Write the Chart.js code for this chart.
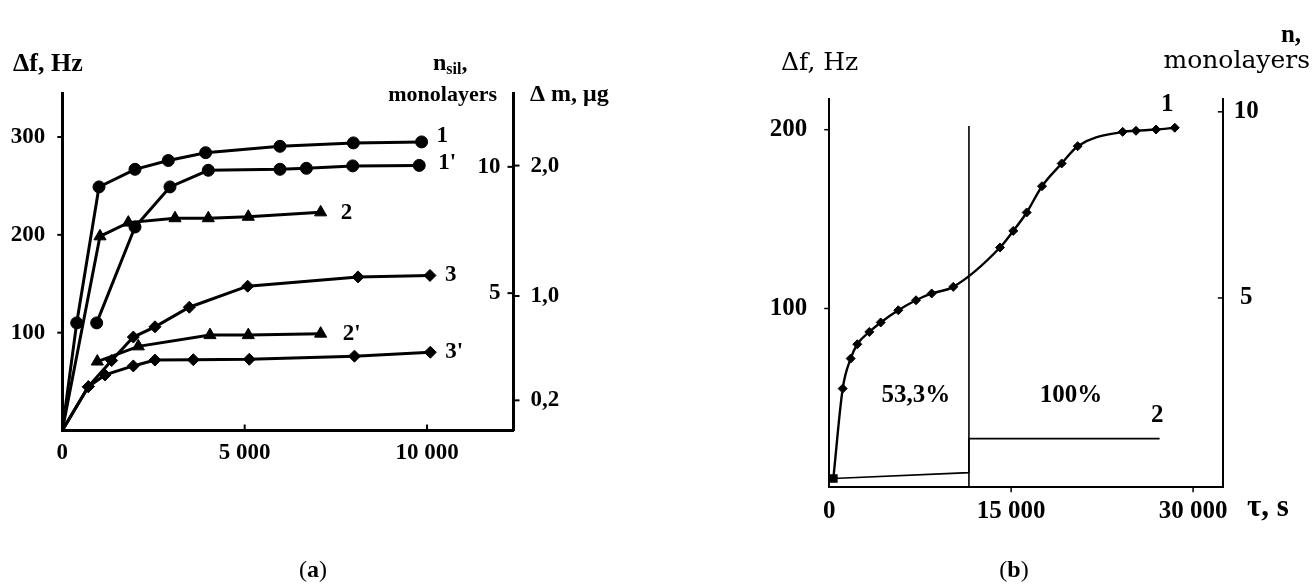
<!DOCTYPE html>
<html>
<head>
<meta charset="utf-8">
<script src="https://cdn.jsdelivr.net/npm/chart.js@4.4.0/dist/chart.umd.min.js"></script>
<style>
html, body { margin: 0; padding: 0; background: #fff; }
#wrap { position: relative; width: 1312px; height: 585px; }
#wrap canvas { position: absolute; left: 0; top: 0; }
</style>
</head>
<body>
<div id="wrap">
  <canvas id="chartA" width="1312" height="585"></canvas>
  <canvas id="chartB" width="1312" height="585"></canvas>
</div>
<script>
// ---- panel (a): Δf vs time, six curves ----
const timeA1  = [0, 395, 1006, 1993, 2906, 3930, 5968, 7980, 9850];
const dfA1    = [0, 110, 249, 267, 276, 284, 290.5, 294, 295];
const timeA1p = [942, 1993, 2952, 4003, 5968, 6692, 7961, 9786];
const dfA1p   = [110, 208, 249, 266, 267, 268, 270.5, 271];
const timeA2  = [0, 1033, 1810, 3090, 4003, 5099, 7083];
const dfA2    = [0, 198.5, 212.5, 217, 217, 218.5, 223];
const timeA2p = [960, 2084, 4049, 5099, 7083];
const dfA2p   = [70.5, 86, 97.5, 97.5, 99];
const timeA3  = [0, 713, 1353, 1947, 2541, 3482, 5082, 8107, 10080];
const dfA3    = [0, 44.8, 71.5, 95.5, 106, 126, 147.5, 157, 158.5];
const timeA3p = [0, 713, 1171, 1947, 2541, 3592, 5126, 8010, 10090];
const dfA3p   = [0, 44.8, 56.8, 66, 72, 72.4, 72.8, 76, 80];

const xTicksA = [0, 5000, 10000];
const yTicksA = [100, 200, 300];
const nsilTicksA = [5, 10];
const dmTicksA = [0.2, 1.0, 2.0];

// ---- panel (b) ----
const timeB1 = [340, 1113, 1772, 2317, 3306, 4246, 5697, 7156, 8450, 10231, 14081, 15177, 16282, 17543, 19167, 20486, 24196, 25293, 26950, 28491];
const dfB1   = [4.9, 55.2, 72, 80, 86.9, 92.2, 99, 104.6, 108.4, 112.1, 134.1, 143.4, 153.7, 168.4, 181.1, 190.8, 198.8, 199.4, 200.1, 201.1];
const timeB2 = [340, 11520, 11520, 27240];
const dfB2   = [4.9, 8.2, 27.2, 27.2];
const timeSep = [11520, 11520];
const dfSep   = [0, 202];

const xTicksB = [0, 15000, 30000];
const yTicksB = [100, 200];
const nTicksB = [5, 10];

const SERIF = '"Liberation Serif", "Times New Roman", serif';
const DEJA = '"DejaVu Serif", serif';
const bold = s => 'bold ' + s + 'px ' + SERIF;
const reg = s => s + 'px ' + SERIF;

const pts = (xs, ys) => xs.map((x, i) => ({ x: x, y: ys[i] }));
const spaced = v => String(v).replace(/\B(?=(\d{3})+$)/g, ' ');

function axis(o) {
  return {
    type: 'linear',
    position: o.position,
    min: o.min,
    max: o.max,
    display: o.display === undefined ? true : o.display,
    weight: o.weight || 0,
    border: { display: true, color: '#000', width: o.bw },
    grid: { display: true, drawOnChartArea: false, drawTicks: false },
    ticks: {
      color: '#000',
      font: { family: SERIF, size: o.fs, weight: 'bold' },
      padding: o.pad,
      crossAlign: o.crossAlign || 'near',
      callback: o.fmt || (v => String(v))
    },
    afterBuildTicks: s => { s.ticks = o.ticks.map(v => ({ value: v })); },
    afterFit: s => {
      if (o.size === undefined) return;
      if (s.isHorizontal()) s.height = o.size; else s.width = o.size;
    }
  };
}

// small tick marks drawn from the scales
const tickMarks = {
  id: 'tickMarks',
  afterDraw(chart, args, opts) {
    const ctx = chart.ctx, ca = chart.chartArea;
    ctx.save();
    ctx.strokeStyle = '#000';
    (opts.marks || []).forEach(m => {
      const s = chart.scales[m.scale];
      ctx.lineWidth = m.width;
      m.values.forEach(v => {
        const p = s.getPixelForValue(v);
        ctx.beginPath();
        if (s.isHorizontal()) {
          ctx.moveTo(p, ca.bottom - m.inner);
          ctx.lineTo(p, ca.bottom + m.outer);
        } else {
          const x = m.side === 'right' ? ca.right : ca.left;
          const d = m.side === 'right' ? 1 : -1;
          ctx.moveTo(x - d * m.inner, p);
          ctx.lineTo(x + d * m.outer, p);
        }
        ctx.stroke();
      });
      if (m.labels) {
        ctx.fillStyle = '#000';
        ctx.font = m.labels.font;
        ctx.textAlign = 'right';
        ctx.textBaseline = 'middle';
        m.values.forEach(v => {
          ctx.fillText(String(v), ca.right - m.labels.gap, s.getPixelForValue(v));
        });
      }
    });
    ctx.restore();
  }
};

// free texts: pixel-placed titles, data-placed notes, labels at series ends
const texts = {
  id: 'texts',
  afterDraw(chart, args, opts) {
    const ctx = chart.ctx;
    ctx.save();
    ctx.fillStyle = '#000';
    ctx.textBaseline = 'middle';
    ctx.textAlign = 'left';
    (opts.items || []).forEach(it => {
      let x = it.x, y = it.y;
      if (it.data) {
        x = chart.scales.x.getPixelForValue(it.data[0]);
        y = chart.scales.y.getPixelForValue(it.data[1]);
      }
      if (it.ds !== undefined) {
        const el = chart.getDatasetMeta(it.ds).data;
        const last = el[el.length - 1];
        x = last.x + it.dx;
        y = last.y + it.dy;
      }
      const parts = it.parts || [{ t: it.t, font: it.font }];
      let total = 0;
      parts.forEach(p => { ctx.font = p.font; p.w = ctx.measureText(p.t).width; total += p.w; });
      let cx = it.align === 'center' ? x - total / 2 : it.align === 'right' ? x - total : x;
      parts.forEach(p => {
        ctx.font = p.font;
        ctx.fillText(p.t, cx, y + (p.dy || 0));
        cx += p.w;
      });
    });
    ctx.restore();
  }
};

const base = {
  responsive: false,
  animation: false,
  devicePixelRatio: 1,
  events: [],
};

function series(xs, ys, style, radius, lw) {
  return {
    data: pts(xs, ys),
    showLine: true,
    borderColor: '#000',
    backgroundColor: '#000',
    borderWidth: lw,
    pointStyle: style,
    pointRadius: c => (c.raw && c.raw.x === 0 ? 0 : radius),
    pointBackgroundColor: '#000',
    pointBorderColor: '#000',
    pointBorderWidth: 1,
    tension: 0
  };
}

// ---------- chart (a) ----------
new Chart(document.getElementById('chartA'), {
  type: 'scatter',
  data: {
    datasets: [
      series(timeA1, dfA1, 'circle', 6, 3),
      series(timeA1p, dfA1p, 'circle', 6, 3),
      series(timeA2, dfA2, 'triangle', 7, 3),
      series(timeA2p, dfA2p, 'triangle', 7, 3),
      series(timeA3, dfA3, 'rectRot', 6, 3),
      series(timeA3p, dfA3p, 'rectRot', 6, 3)
    ]
  },
  options: Object.assign({}, base, {
    layout: { padding: { left: 0, top: 93, right: 738.5, bottom: 114.5 } },
    plugins: {
      legend: { display: false },
      tooltip: { enabled: false },
      tickMarks: {
        marks: [
          { scale: 'y', values: yTicksA, side: 'left', inner: 0, outer: 5, width: 2 },
          { scale: 'x', values: xTicksA.slice(1), inner: 6, outer: 0, width: 2 },
          { scale: 'dm', values: dmTicksA, side: 'right', inner: 0, outer: 6, width: 2 },
          { scale: 'nsil', values: nsilTicksA, side: 'right', inner: 6, outer: 0, width: 2,
            labels: { font: bold(23), gap: 13 } }
        ]
      },
      texts: {
        items: [
          { t: 'Δf, Hz', font: bold(26), x: 13, y: 64 },
          { parts: [{ t: 'n', font: bold(24) }, { t: 'sil', font: bold(16), dy: 6 }, { t: ',', font: bold(24) }], x: 433, y: 64 },
          { t: 'monolayers', font: bold(22), x: 497, y: 95, align: 'right' },
          { t: 'Δ m, μg', font: bold(24), x: 530, y: 95 },
          { t: '1', font: bold(23), ds: 0, dx: 15, dy: -6 },
          { t: "1'", font: bold(23), ds: 1, dx: 19, dy: -2 },
          { t: '2', font: bold(23), ds: 2, dx: 20, dy: 1 },
          { t: "2'", font: bold(23), ds: 3, dx: 22, dy: 0 },
          { t: '3', font: bold(23), ds: 4, dx: 15, dy: 0 },
          { t: "3'", font: bold(23), ds: 5, dx: 15, dy: 0 },
          { parts: [{ t: '(', font: reg(24) }, { t: 'a', font: bold(24) }, { t: ')', font: reg(24) }], x: 313, y: 571, align: 'center' }
        ]
      }
    },
    scales: {
      x: axis({ position: 'bottom', min: 0, max: 12370, ticks: xTicksA, bw: 3, fs: 23, pad: 9, size: 40, fmt: spaced }),
      y: axis({ position: 'left', min: 0, max: 345, ticks: yTicksA, bw: 3, fs: 23, pad: 17, size: 62.3 }),
      dm: axis({ position: 'right', min: -0.0312, max: 2.5565, ticks: dmTicksA, bw: 3, fs: 23, pad: 17, size: 60,
                 fmt: v => v.toFixed(1).replace('.', ',') }),
      nsil: Object.assign(axis({ position: 'right', min: -0.4377, max: 12.924, ticks: nsilTicksA, bw: 0, fs: 23, pad: 0 }),
                          { display: false })
    }
  }),
  plugins: [tickMarks, texts]
});

// ---------- chart (b) ----------
new Chart(document.getElementById('chartB'), {
  type: 'scatter',
  data: {
    datasets: [
      { data: pts(timeSep, dfSep), showLine: true, borderColor: '#000', borderWidth: 1.6, pointRadius: 0 },
      { data: pts(timeB2, dfB2), showLine: true, borderColor: '#000', borderWidth: 1.6,
        pointStyle: 'rect', pointRadius: c => (c.dataIndex === 0 ? 5 : 0),
        pointBackgroundColor: '#000', pointBorderColor: '#000' },
      { data: pts(timeB1, dfB1), showLine: true, borderColor: '#000', borderWidth: 2.4,
        cubicInterpolationMode: 'monotone',
        pointStyle: 'rectRot', pointRadius: c => (c.dataIndex === 0 ? 0 : 4.5),
        pointBackgroundColor: '#000', pointBorderColor: '#000', pointBorderWidth: 1 }
    ]
  },
  options: Object.assign({}, base, {
    layout: { padding: { left: 769.2, top: 99.3, right: 39.2, bottom: 57.7 } },
    plugins: {
      legend: { display: false },
      tooltip: { enabled: false },
      tickMarks: {
        marks: [
          { scale: 'y', values: yTicksB, side: 'left', inner: 0, outer: 5, width: 1.5 },
          { scale: 'x', values: xTicksB.slice(1), inner: 0, outer: 5, width: 1.5 },
          { scale: 'n', values: nTicksB, side: 'right', inner: 5, outer: 0, width: 1.5 }
        ]
      },
      texts: {
        items: [
          { t: 'Δf, Hz', font: '25px ' + DEJA, x: 781, y: 63 },
          { t: 'n,', font: bold(25), x: 1291, y: 36, align: 'center' },
          { t: 'monolayers', font: '25px ' + DEJA, x: 1310, y: 61, align: 'right' },
          { t: 'τ, s', font: bold(31), x: 1247, y: 508 },
          { t: '53,3%', font: bold(25), data: [7156, 51.5], align: 'center' },
          { t: '100%', font: bold(25), data: [19934, 51.5], align: 'center' },
          { t: '1', font: bold(25), data: [27873, 213.8], align: 'center' },
          { t: '2', font: bold(25), data: [27040, 40.3], align: 'center' },
          { parts: [{ t: '(', font: reg(24) }, { t: 'b', font: bold(24) }, { t: ')', font: reg(24) }], x: 1014, y: 571, align: 'center' }
        ]
      }
    },
    scales: {
      x: axis({ position: 'bottom', min: 0, max: 32450, ticks: xTicksB, bw: 2, fs: 25, pad: 9, size: 40, fmt: spaced }),
      y: axis({ position: 'left', min: 0, max: 217, ticks: yTicksB, bw: 2, fs: 25, pad: 22, size: 60 }),
      n: axis({ position: 'right', min: -0.0865, max: 10.336, ticks: nTicksB, bw: 2, fs: 25, pad: 11, size: 50, crossAlign: 'center' })
    }
  }),
  plugins: [tickMarks, texts]
});
</script>
</body>
</html>
